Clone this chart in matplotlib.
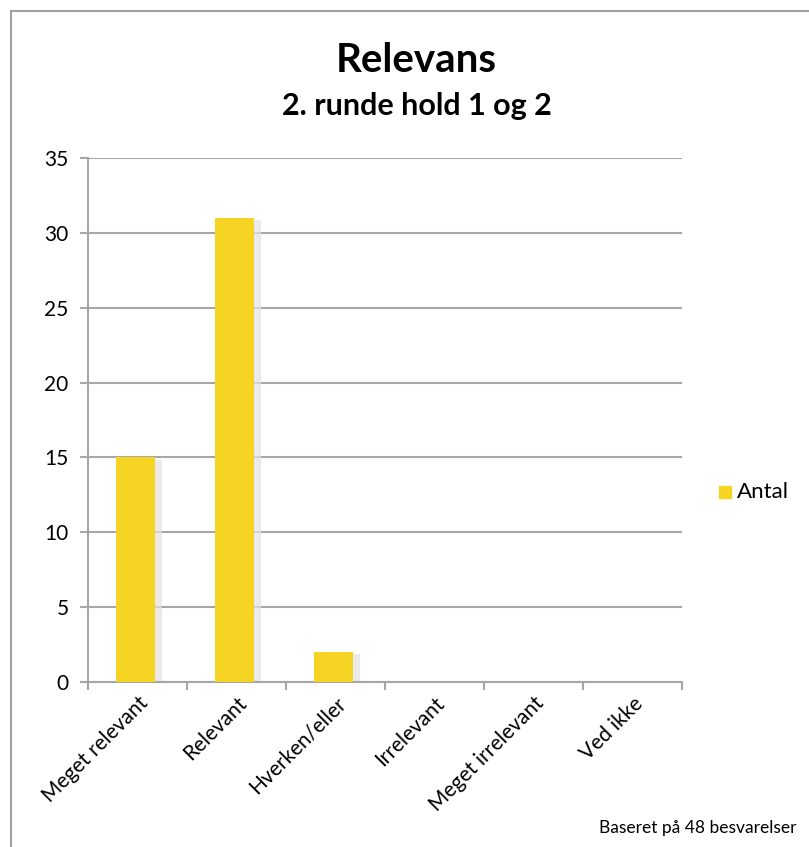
import matplotlib.pyplot as plt
from matplotlib.patches import Rectangle

plt.rcParams['font.family'] = ['Lato', 'DejaVu Sans']

# data
categories = ['Meget relevant', 'Relevant', 'Hverken/eller', 'Irrelevant',
              'Meget irrelevant', 'Ved ikke']
antal = [15, 31, 2, 0, 0, 0]
y_ticks = [0, 5, 10, 15, 20, 25, 30, 35]

BAR_COLOR = '#F5D423'
GRID_COLOR = '#A6A6A6'

fig = plt.figure(figsize=(8.09, 8.47), dpi=100)
ax = fig.add_axes([0.1088, 0.1948, 0.7343, 0.6187])

x = list(range(len(categories)))

# faint shadow, then bars
ax.bar([i + 0.05 for i in x], [max(v - 0.15, 0) for v in antal], width=0.4,
       color='#E2E2E2', alpha=0.7, zorder=2)
ax.bar([i - 0.02 for i in x], antal, width=0.4, color=BAR_COLOR, zorder=3)

ax.set_xlim(-0.5, len(categories) - 0.5)
ax.set_ylim(0, 35)
ax.set_yticks(y_ticks)
ax.set_yticklabels([str(t) for t in y_ticks], fontsize=15)
ax.yaxis.grid(True, color=GRID_COLOR, linewidth=1.5, zorder=0)
ax.set_axisbelow(True)

# x ticks at category boundaries, labels at centers
ax.set_xticks([i - 0.5 for i in range(len(categories) + 1)])
ax.set_xticklabels([])
ax.set_xticks(x, minor=True)
ax.set_xticklabels(categories, minor=True, rotation=45, ha='right',
                   rotation_mode='anchor', fontsize=15)
ax.tick_params(axis='x', which='minor', length=0, pad=8)
ax.tick_params(axis='x', which='major', length=6, color=GRID_COLOR, width=1.5)
ax.tick_params(axis='y', length=6, color=GRID_COLOR, width=1.5, pad=8)

for side in ['top', 'right']:
    ax.spines[side].set_visible(False)
for side in ['left', 'bottom']:
    ax.spines[side].set_color(GRID_COLOR)
    ax.spines[side].set_linewidth(1.5)

fig.text(0.515, 0.929, 'Relevans', ha='center', va='center',
         fontsize=29, fontweight='bold')
fig.text(0.515, 0.875, '2. runde hold 1 og 2', ha='center', va='center',
         fontsize=22, fontweight='bold')

# legend
fig.patches.append(Rectangle((719 / 809, 1 - 498 / 847), 12 / 809, 12 / 847,
                             transform=fig.transFigure, color=BAR_COLOR))
fig.text(737 / 809, 1 - 492 / 847, 'Antal', ha='left', va='center', fontsize=16)

fig.text(0.985, 0.022, 'Baseret på 48 besvarelser', ha='right', va='center',
         fontsize=12.5)

# outer border
fig.patches.append(Rectangle((11 / 809, -0.01), 1.0, 1 - 11 / 847 + 0.01,
                             transform=fig.transFigure, fill=False,
                             edgecolor='#A0A0A0', linewidth=1.5))

plt.savefig('out.png', dpi=100)
